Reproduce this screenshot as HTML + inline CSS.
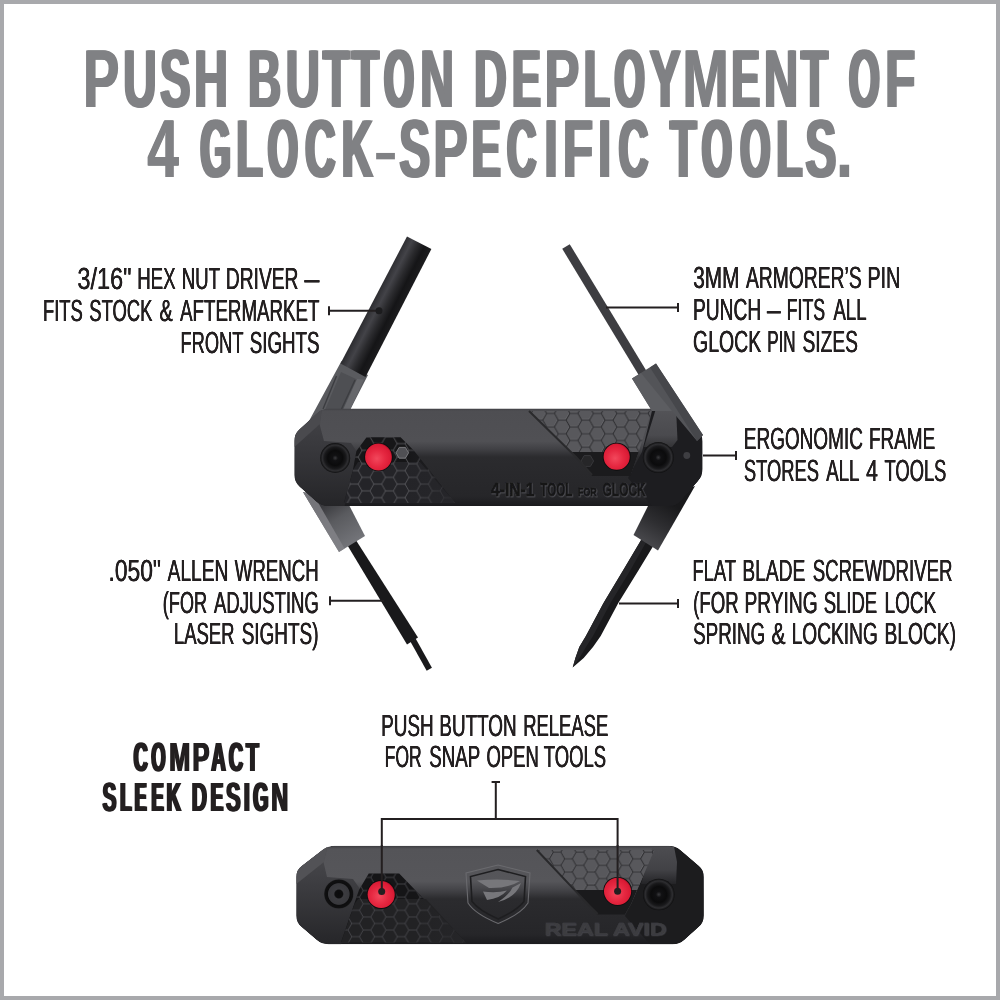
<!DOCTYPE html>
<html lang="en">
<head>
<meta charset="utf-8">
<title>PUSH BUTTON DEPLOYMENT OF 4 GLOCK-SPECIFIC TOOLS.</title>
<style>
html,body{margin:0;padding:0;background:#fff;}
body{width:1000px;height:1000px;overflow:hidden;position:relative;}
svg{position:absolute;left:0;top:0;display:block;}
svg text{font-family:"Liberation Sans",Arial,Helvetica,sans-serif;white-space:pre;}
.t{margin:0;padding:0;will-change:transform;text-rendering:geometricPrecision;position:absolute;left:0;top:0;font-family:"Liberation Sans",Arial,Helvetica,sans-serif;font-weight:normal;font-size:0;line-height:0;white-space:nowrap;color:#231f20;}
.t br{display:none;}
.c{display:inline-block;vertical-align:top;width:0;line-height:1;white-space:pre;transform-origin:0 0;}
.title{font-weight:bold;color:#808184;}
.title .c{font-size:82.3px;}
.lbl .c{font-size:30.5px;}
.sub{font-weight:bold;}
.sub .c{font-size:40.7px;}
</style>
</head>
<body>
<svg width="1000" height="1000" viewBox="0 0 1000 1000">
<defs>
<!-- flat-top hexagon tiling, unit side s=1 scaled via patternTransform -->
<pattern id="hexd" width="3" height="1.732" patternUnits="userSpaceOnUse" patternTransform="translate(346.5,443.6) scale(7.8)">
<path d="M0 .866L.5 0L1.5 0L2 .866L1.5 1.732L.5 1.732ZM2 .866L3 .866" fill="none" stroke="#5a5a5e" stroke-width="0.11"/>
</pattern>
<pattern id="hexl" width="3" height="1.732" patternUnits="userSpaceOnUse" patternTransform="translate(531,406.6) scale(7.8)">
<path d="M0 .866L.5 0L1.5 0L2 .866L1.5 1.732L.5 1.732ZM2 .866L3 .866" fill="none" stroke="#77777b" stroke-width="0.09" transform="translate(-0.05,-0.08)"/>
<path d="M0 .866L.5 0L1.5 0L2 .866L1.5 1.732L.5 1.732ZM2 .866L3 .866" fill="none" stroke="#2a2a2d" stroke-width="0.13"/>
</pattern>
<pattern id="hexd2" width="3" height="1.732" patternUnits="userSpaceOnUse" patternTransform="translate(348,884) scale(7.6)">
<path d="M0 .866L.5 0L1.5 0L2 .866L1.5 1.732L.5 1.732ZM2 .866L3 .866" fill="none" stroke="#48484c" stroke-width="0.11"/>
</pattern>
<pattern id="hexl2" width="3" height="1.732" patternUnits="userSpaceOnUse" patternTransform="translate(538,845.5) scale(7.6)">
<path d="M0 .866L.5 0L1.5 0L2 .866L1.5 1.732L.5 1.732ZM2 .866L3 .866" fill="none" stroke="#75757a" stroke-width="0.09" transform="translate(-0.05,-0.08)"/>
<path d="M0 .866L.5 0L1.5 0L2 .866L1.5 1.732L.5 1.732ZM2 .866L3 .866" fill="none" stroke="#2a2a2d" stroke-width="0.13"/>
</pattern>
<linearGradient id="bodyg" gradientUnits="userSpaceOnUse" x1="0" y1="408" x2="0" y2="506">
<stop offset="0" stop-color="#3c3c40"/>
<stop offset="0.03" stop-color="#4e4e52"/>
<stop offset="0.34" stop-color="#505054"/>
<stop offset="0.42" stop-color="#404044"/>
<stop offset="0.5" stop-color="#2b2b2e"/>
<stop offset="0.9" stop-color="#262629"/>
<stop offset="1" stop-color="#1b1b1e"/>
</linearGradient>
<linearGradient id="bodyg2" gradientUnits="userSpaceOnUse" x1="0" y1="846" x2="0" y2="944">
<stop offset="0" stop-color="#3e3e42"/>
<stop offset="0.03" stop-color="#545458"/>
<stop offset="0.36" stop-color="#56565a"/>
<stop offset="0.45" stop-color="#434347"/>
<stop offset="0.54" stop-color="#2b2b2e"/>
<stop offset="0.9" stop-color="#262629"/>
<stop offset="1" stop-color="#1b1b1e"/>
</linearGradient>
<radialGradient id="redg" cx="0.44" cy="0.56" r="0.62">
<stop offset="0" stop-color="#f2485c"/>
<stop offset="0.5" stop-color="#e62841"/>
<stop offset="0.86" stop-color="#d91a34"/>
<stop offset="1" stop-color="#8a0a1e"/>
</radialGradient>
<radialGradient id="screwg" cx="0.5" cy="0.5" r="0.5">
<stop offset="0" stop-color="#3a3a3d"/>
<stop offset="0.18" stop-color="#111113"/>
<stop offset="0.5" stop-color="#0b0b0c"/>
<stop offset="0.72" stop-color="#19191b"/>
<stop offset="0.86" stop-color="#2e2e31"/>
<stop offset="1" stop-color="#0e0e0f"/>
</radialGradient>
<linearGradient id="cylg" gradientUnits="userSpaceOnUse" x1="374" y1="300" x2="398.5" y2="312.5">
<stop offset="0" stop-color="#2e2e32"/>
<stop offset="0.25" stop-color="#434348"/>
<stop offset="0.5" stop-color="#2a2a2d"/>
<stop offset="0.75" stop-color="#151517"/>
<stop offset="1" stop-color="#1c1c1e"/>
</linearGradient>
<linearGradient id="hold3" gradientUnits="userSpaceOnUse" x1="325" y1="503" x2="352" y2="545">
<stop offset="0" stop-color="#38383c"/>
<stop offset="0.4" stop-color="#5a5b5f"/>
<stop offset="1" stop-color="#74757a"/>
</linearGradient>
<linearGradient id="hold4" gradientUnits="userSpaceOnUse" x1="670" y1="503" x2="645" y2="545">
<stop offset="0" stop-color="#19191b"/>
<stop offset="0.5" stop-color="#2e2e31"/>
<stop offset="1" stop-color="#4a4a4e"/>
</linearGradient>
<linearGradient id="fadeL" gradientUnits="userSpaceOnUse" x1="405" y1="0" x2="455" y2="0">
<stop offset="0" stop-color="#26262a" stop-opacity="0"/>
<stop offset="1" stop-color="#26262a" stop-opacity="0.9"/>
</linearGradient>
<linearGradient id="endR" gradientUnits="userSpaceOnUse" x1="0" y1="408" x2="0" y2="447">
<stop offset="0" stop-color="#545458"/>
<stop offset="0.7" stop-color="#4a4a4e"/>
<stop offset="1" stop-color="#333336"/>
</linearGradient>
<linearGradient id="endR2" gradientUnits="userSpaceOnUse" x1="0" y1="848" x2="0" y2="884">
<stop offset="0" stop-color="#4c4c50"/>
<stop offset="0.6" stop-color="#424246"/>
<stop offset="1" stop-color="#242427"/>
</linearGradient>
<linearGradient id="fadeL2" gradientUnits="userSpaceOnUse" x1="415" y1="0" x2="466" y2="0">
<stop offset="0" stop-color="#262629" stop-opacity="0"/>
<stop offset="1" stop-color="#262629" stop-opacity="0.9"/>
</linearGradient>
<linearGradient id="capL" gradientUnits="userSpaceOnUse" x1="0" y1="410" x2="0" y2="506">
<stop offset="0" stop-color="#444448"/>
<stop offset="0.4" stop-color="#38383c"/>
<stop offset="1" stop-color="#252528"/>
</linearGradient>
<linearGradient id="capL2" gradientUnits="userSpaceOnUse" x1="0" y1="848" x2="0" y2="944">
<stop offset="0" stop-color="#4a4a4e"/>
<stop offset="0.4" stop-color="#3c3c40"/>
<stop offset="1" stop-color="#262629"/>
</linearGradient>
<filter id="emb" x="-5%" y="-20%" width="110%" height="150%"><feDropShadow dx="0.6" dy="0.7" stdDeviation="0.25" flood-color="#5c5c60" flood-opacity="0.9"/></filter>
<filter id="emb2" x="-5%" y="-20%" width="110%" height="150%"><feDropShadow dx="0.5" dy="0.6" stdDeviation="0.25" flood-color="#4e4e52" flood-opacity="0.9"/></filter>
<radialGradient id="screwg2" cx="0.5" cy="0.5" r="0.5">
<stop offset="0" stop-color="#0c0c0d"/>
<stop offset="0.26" stop-color="#0e0e0f"/>
<stop offset="0.34" stop-color="#3c3c40"/>
<stop offset="0.7" stop-color="#38383c"/>
<stop offset="0.76" stop-color="#0d0d0e"/>
<stop offset="0.94" stop-color="#101011"/>
<stop offset="1" stop-color="#2a2a2d"/>
</radialGradient>
<clipPath id="cb1"><path d="M316.9,413.3 Q322,408.5 329.0,408.5 L669.0,408.5 Q676,408.5 681.0,413.4 L697.5,429.6 Q702.5,434.5 702.5,441.5 L702.5,469.0 Q702.5,476 697.9,481.2 L680.6,500.8 Q676,506 669.0,506.0 L328.0,506.0 Q321,506 315.8,501.3 L299.6,486.7 Q294.4,482 294.4,475.0 L294.4,441.0 Q294.4,434 299.5,429.2 Z"/></clipPath>
<clipPath id="cb2"><path d="M322.2,850.1 Q327.8,845.8 334.8,845.8 L668.4,845.8 Q675.4,845.8 680.7,850.3 L698.5,865.5 Q703.8,870 703.8,877.0 L703.8,915.4 Q703.8,922.4 698.6,927.1 L684.8,939.5 Q679.6,944.2 672.6,944.2 L328.5,944.2 Q321.5,944.2 316.2,939.6 L301.6,927.0 Q296.3,922.4 296.3,915.4 L296.3,877.0 Q296.3,870 301.9,865.7 Z"/></clipPath>
</defs>
<rect x="0" y="0" width="1000" height="1000" fill="#ffffff"/>
<rect x="2" y="2" width="996" height="996" fill="none" stroke="#a8a9ac" stroke-width="4"/>
<g id="tool-open">
<!-- hex nut driver holder (grey) -->
<polygon points="341.5,361 368,375 349,412 325,412 309,421" fill="#5a5b5f"/>
<polygon points="341,372 357,379.5 343,410 325,410" fill="#4e4f53"/>
<path d="M336.5,376 L323,409 M355,380 L341.5,409" stroke="#3c3d41" stroke-width="1.4" fill="none"/>
<polygon points="357,379 364,379.5 349,412 343,410" fill="#66676b"/>
<!-- hex nut driver cylinder -->
<polygon points="407,236.5 431.4,249 365.5,377 340.5,363.5" fill="url(#cylg)"/>
<!-- pin punch rod -->
<line x1="566" y1="246.5" x2="643.5" y2="374.5" stroke="#3d3d41" stroke-width="8.8"/>
<!-- allen wrench -->
<polygon points="345.75,542.6 354.25,537.4 418,637.6 407,644.4" fill="#19191b"/>
<line x1="413" y1="640" x2="429.3" y2="669.3" stroke="#19191b" stroke-width="6"/>
<!-- allen wrench holder -->
<polygon points="303,492 339,552 365,536 349,505" fill="url(#hold3)"/>
<polygon points="303,492 339,552 344.5,548.5 312,492" fill="#84858a" opacity="0.8"/>
<!-- screwdriver -->
<polygon points="643.5,536 657.5,539 638.7,570 618.3,603 600.7,636 593,647 583.7,658 572.7,667.4 575.4,658 579.3,647 585.9,636 603.5,603 623.3,570" fill="#19191b"/>
<polygon points="623.3,570 603.5,603 585.9,636 579.3,647 575.4,658 572.7,667.4 579.5,658 586,647 593,636 610.5,603 630.5,570 649,537 643.5,536" fill="#252528"/>
<!-- screwdriver holder -->
<polygon points="652,498 633.5,535 658,550.5 695,486" fill="url(#hold4)"/>
<!-- body -->
<g clip-path="url(#cb1)">
<path d="M316.9,413.3 Q322,408.5 329.0,408.5 L669.0,408.5 Q676,408.5 681.0,413.4 L697.5,429.6 Q702.5,434.5 702.5,441.5 L702.5,469.0 Q702.5,476 697.9,481.2 L680.6,500.8 Q676,506 669.0,506.0 L328.0,506.0 Q321,506 315.8,501.3 L299.6,486.7 Q294.4,482 294.4,475.0 L294.4,441.0 Q294.4,434 299.5,429.2 Z" fill="url(#bodyg)"/>
<!-- left end cap -->
<path d="M322,408.5 L294.4,434 L294.4,482 L321,506 L344.5,506 L353,470 L356.4,451 L351,443 L324,441 L319.5,424 Z" fill="url(#capL)"/>
<path d="M322,408.5 L294.4,434 L294.4,447 L320,424 Z" fill="#4a4a4e"/>
<!-- right end -->
<path d="M652,411 L676,408.5 L702.5,434.5 L702.5,476 L676,506 L652,506 L628,478 L642,452 Z" fill="#1d1d20"/>
<path d="M656,408.5 L676,408.5 L677.5,440 L672,447 L644,447 Z" fill="url(#endR)"/>
</g>
<!-- pin punch holder (in front of body corner) -->
<polygon points="632,378.5 656,363.5 703,435 697,441 672,411 652,411" fill="#535458"/>
<polygon points="632,378.5 641,373 672,411 652,411" fill="#5c5d61"/>
<polygon points="650,367.5 656,363.5 703,435 697,441" fill="#46474b"/>
<!-- left recess + hex panel -->
<polygon points="356.4,451 366.6,437.2 400.6,437.2 414.2,451 455,503 344,503 353,470" fill="#161618"/>
<polygon points="353,470 358,462 420,462 455,503 344,503" fill="#242428"/>
<polygon points="356.4,451 366.6,437.2 400.6,437.2 414.2,451 455,503 344,503 353,470" fill="url(#hexd)"/>
<polygon points="356.4,451 366.6,437.2 400.6,437.2 414.2,451 455,503 344,503 353,470" fill="url(#fadeL)"/>
<polygon points="396,452.8 399.2,447.4 405.4,447.4 408.6,452.8 405.4,458.2 399.2,458.2" fill="#505054" stroke="#8a8a8e" stroke-width="0.8"/>
<!-- right hex panel -->
<polygon points="529,411 651.5,411 639.5,449.5 630.5,475 592,475 577,458" fill="#58585c"/>
<polygon points="529,411 651.5,411 639.5,449.5 630.5,475 592,475 577,458" fill="url(#hexl)"/>
<polygon points="571,452 638.7,452 630.5,476 592,476 577,458.5" fill="#1b1b1d"/>
<polygon points="581,461 584.2,455.6 590.4,455.6 593.6,461 590.4,466.4 584.2,466.4" fill="#262628" stroke="#3c3c40" stroke-width="0.8"/>
<path d="M529,411 L577,458 L592,475" fill="none" stroke="#2a2a2c" stroke-width="2"/>
<!-- screws -->
<circle cx="335.2" cy="458" r="15" fill="url(#screwg)"/>
<circle cx="658.3" cy="457.5" r="15.5" fill="url(#screwg)"/>
<!-- red buttons -->
<circle cx="378.5" cy="457" r="14.3" fill="#0c0c0d"/>
<circle cx="378.5" cy="457" r="13.4" fill="url(#redg)"/>
<circle cx="616.7" cy="456.7" r="14" fill="#0c0c0d"/>
<circle cx="616.7" cy="456.7" r="13.1" fill="url(#redg)"/>
<!-- embossed text -->
<g font-weight="bold" fill="#141416" stroke="#141416" stroke-width="0.85" filter="url(#emb)">
<text x="491" y="495.8" textLength="43.5" lengthAdjust="spacingAndGlyphs" font-size="17.6">4-IN-1</text>
<text x="540.3" y="495.8" textLength="32.2" lengthAdjust="spacingAndGlyphs" font-size="17.6">TOOL</text>
<text x="578" y="495.6" textLength="18.8" lengthAdjust="spacingAndGlyphs" font-size="10.5">FOR</text>
<text x="602.6" y="495.8" textLength="43" lengthAdjust="spacingAndGlyphs" font-size="17.6">GLOCK</text>
</g>
</g>
<g id="leaders" stroke="#231f20" stroke-width="2" fill="none">
<path d="M329,306.2V315.2M329,310.7H379"/>
<path d="M678,303.1V312.1M678,307.6H606"/>
<path d="M736,451.1V460.1M736,455.6H703"/>
<path d="M330,596.3V605.3M330,600.8H384"/>
<path d="M678,599V608M678,603.5H619"/>
<path d="M491.6,782H500M495.8,782V819M381.8,870V819H617.6V870"/>
</g>
<circle cx="379" cy="310.7" r="3.5" fill="#1c1c1e"/>
<circle cx="686.8" cy="455.5" r="3.4" fill="#3e3e42"/>
<g id="tool-closed">
<g clip-path="url(#cb2)">
<path d="M322.2,850.1 Q327.8,845.8 334.8,845.8 L668.4,845.8 Q675.4,845.8 680.7,850.3 L698.5,865.5 Q703.8,870 703.8,877.0 L703.8,915.4 Q703.8,922.4 698.6,927.1 L684.8,939.5 Q679.6,944.2 672.6,944.2 L328.5,944.2 Q321.5,944.2 316.2,939.6 L301.6,927.0 Q296.3,922.4 296.3,915.4 L296.3,877.0 Q296.3,870 301.9,865.7 Z" fill="url(#bodyg2)"/>
<!-- left end cap -->
<path d="M327.8,845.8 L296.3,870 L296.3,922.4 L321.5,944.2 L341,944.2 L360,889 L353,879 L327,877 L323.5,862 Z" fill="url(#capL2)"/>
<path d="M327.8,845.8 L296.3,870 L296.3,884 L324,862 Z" fill="#525256"/>
<!-- right end -->
<path d="M654.4,850 L675.4,845.8 L703.8,870 L703.8,922.4 L679.6,944.2 L650,944.2 L625,916 L631.3,903.5 Z" fill="#1c1c1e"/>
<path d="M652,848 L674,846.5 L677,862 L676,884 L641,884 Z" fill="url(#endR2)"/>
</g>
<!-- left hex panel -->
<polygon points="359,890 368.75,873.5 399.2,873.5 466,942.5 341,942.5" fill="#151517"/>
<polygon points="354.5,904 358,899 426,899 466,942.5 341,942.5" fill="#222224"/>
<polygon points="359,890 368.75,873.5 399.2,873.5 466,942.5 341,942.5" fill="url(#hexd2)"/>
<polygon points="359,890 368.75,873.5 399.2,873.5 466,942.5 341,942.5" fill="url(#fadeL2)"/>
<!-- right hex panel -->
<polygon points="536.8,850 654.4,850 631.3,903.5 625,914 597.7,914 589.3,905.6" fill="#58585c"/>
<polygon points="536.8,850 654.4,850 631.3,903.5 625,914 597.7,914 589.3,905.6" fill="url(#hexl2)"/>
<polygon points="574,890 637,890 631.3,903.5 625,914.5 597.7,914.5 589.3,905.6" fill="#1a1a1c"/>
<path d="M536.8,850 L589.3,905.6 L597.7,914" fill="none" stroke="#29292b" stroke-width="2"/>
<!-- screws -->
<circle cx="338.8" cy="894" r="14.8" fill="url(#screwg2)"/>
<circle cx="658.8" cy="894.5" r="15.8" fill="url(#screwg)"/>
<!-- buttons -->
<circle cx="381.2" cy="894.5" r="14.4" fill="#0c0c0d"/>
<circle cx="381.2" cy="894.5" r="13.6" fill="url(#redg)"/>
<circle cx="617.6" cy="891.3" r="14.4" fill="#0c0c0d"/>
<circle cx="617.6" cy="891.3" r="13.6" fill="url(#redg)"/>
<!-- shield -->
<path d="M498,865 L530,873 L528,903 Q521,914 498.2,923.5 Q475,914 468,903 L466,873 Z" fill="none" stroke="#6a6a6e" stroke-width="1.1"/>
<path d="M498,869.5 L525.5,876.5 L524,901.5 Q517,910.5 498.2,919 Q479,910.5 472,901.5 L470.5,876.5 Z" fill="none" stroke="#1e1e20" stroke-width="1.6"/>
<path d="M477,880.5 Q500,878.5 520,881 Q508,888.5 489,888 Z M521,883 Q516,897.5 498,902 Q509,895 512.5,887.5 Z M483,891.5 Q496,893.5 507,890.5 Q500,898.5 487,900 Z" fill="#77777b"/>
<text x="544.5" y="935" textLength="122" lengthAdjust="spacingAndGlyphs" font-size="16.8" font-weight="bold" fill="#3c3c40" stroke="#3c3c40" stroke-width="0.4" filter="url(#emb2)">REAL AVID</text>
</g>
<g stroke="#231f20" stroke-width="2" fill="none"><path d="M381.8,891V845M617.6,891V845"/></g>
<circle cx="381.7" cy="891.5" r="3.5" fill="#231f20"/>
<circle cx="617.6" cy="891.3" r="3.5" fill="#231f20"/>
</svg>
<h1 class="t title" aria-label="PUSH BUTTON DEPLOYMENT OF 4 GLOCK-SPECIFIC TOOLS."><span><span class="c" style="transform:translate(83.40px,37.70px) scaleX(0.6500);text-shadow:1.231px 0 0 #808184,-1.231px 0 0 #808184">P</span><span class="c" style="transform:translate(123.21px,37.70px) scaleX(0.5603);text-shadow:2.338px 0 0 #808184,-2.338px 0 0 #808184">U</span><span class="c" style="transform:translate(160.19px,37.70px) scaleX(0.5519);text-shadow:2.464px 0 0 #808184,-2.464px 0 0 #808184">S</span><span class="c" style="transform:translate(194.30px,37.70px) scaleX(0.5641);text-shadow:2.287px 0 0 #808184,-2.287px 0 0 #808184">H</span></span> <span><span class="c" style="transform:translate(248.01px,37.70px) scaleX(0.5549);text-shadow:2.469px 0 0 #808184,-2.469px 0 0 #808184">B</span><span class="c" style="transform:translate(285.80px,37.70px) scaleX(0.5729);text-shadow:2.147px 0 0 #808184,-2.147px 0 0 #808184">U</span><span class="c" style="transform:translate(322.86px,37.70px) scaleX(0.5344);text-shadow:2.751px 0 0 #808184,-2.751px 0 0 #808184">T</span><span class="c" style="transform:translate(351.71px,37.70px) scaleX(0.5412);text-shadow:2.679px 0 0 #808184,-2.679px 0 0 #808184">T</span><span class="c" style="transform:translate(384.31px,37.70px) scaleX(0.4603);text-shadow:4.215px 0 0 #808184,-4.215px 0 0 #808184">O</span><span class="c" style="transform:translate(420.30px,37.70px) scaleX(0.5641);text-shadow:2.287px 0 0 #808184,-2.287px 0 0 #808184">N</span></span> <span><span class="c" style="transform:translate(474.19px,37.70px) scaleX(0.5486);text-shadow:2.57px 0 0 #808184,-2.57px 0 0 #808184">D</span><span class="c" style="transform:translate(511.94px,37.70px) scaleX(0.5262);text-shadow:2.927px 0 0 #808184,-2.927px 0 0 #808184">E</span><span class="c" style="transform:translate(544.29px,37.70px) scaleX(0.6409);text-shadow:1.373px 0 0 #808184,-1.373px 0 0 #808184">P</span><span class="c" style="transform:translate(584.28px,37.70px) scaleX(0.5025);text-shadow:3.363px 0 0 #808184,-3.363px 0 0 #808184">L</span><span class="c" style="transform:translate(614.63px,37.70px) scaleX(0.4673);text-shadow:4.066px 0 0 #808184,-4.066px 0 0 #808184">O</span><span class="c" style="transform:translate(649.62px,37.70px) scaleX(0.5649);text-shadow:2.319px 0 0 #808184,-2.319px 0 0 #808184">Y</span><span class="c" style="transform:translate(682.43px,37.70px) scaleX(0.6769);text-shadow:0.945px 0 0 #808184,-0.945px 0 0 #808184">M</span><span class="c" style="transform:translate(731.49px,37.70px) scaleX(0.5182);text-shadow:3.03px 0 0 #808184,-3.03px 0 0 #808184">E</span><span class="c" style="transform:translate(763.87px,37.70px) scaleX(0.5769);text-shadow:2.149px 0 0 #808184,-2.149px 0 0 #808184">N</span><span class="c" style="transform:translate(801.05px,37.70px) scaleX(0.5361);text-shadow:2.723px 0 0 #808184,-2.723px 0 0 #808184">T</span></span> <span><span class="c" style="transform:translate(848.95px,37.70px) scaleX(0.4783);text-shadow:3.784px 0 0 #808184,-3.784px 0 0 #808184">O</span><span class="c" style="transform:translate(885.08px,37.70px) scaleX(0.6034);text-shadow:1.79px 0 0 #808184,-1.79px 0 0 #808184">F</span></span> <br> <span><span class="c" style="transform:translate(147.24px,108.20px) scaleX(0.6882);text-shadow:0.828px 0 0 #808184,-0.828px 0 0 #808184">4</span></span> <span><span class="c" style="transform:translate(200.31px,108.20px) scaleX(0.4746);text-shadow:3.856px 0 0 #808184,-3.856px 0 0 #808184">G</span><span class="c" style="transform:translate(236.11px,108.20px) scaleX(0.5320);text-shadow:2.782px 0 0 #808184,-2.782px 0 0 #808184">L</span><span class="c" style="transform:translate(267.80px,108.20px) scaleX(0.4682);text-shadow:4.037px 0 0 #808184,-4.037px 0 0 #808184">O</span><span class="c" style="transform:translate(305.26px,108.20px) scaleX(0.5059);text-shadow:3.262px 0 0 #808184,-3.262px 0 0 #808184">C</span><span class="c" style="transform:translate(341.79px,108.20px) scaleX(0.5229);text-shadow:2.983px 0 0 #808184,-2.983px 0 0 #808184">K</span><span class="c" style="transform:translate(373.37px,124.93px) scale(0.8980,0.65)">-</span><span class="c" style="transform:translate(399.38px,108.20px) scaleX(0.5584);text-shadow:2.364px 0 0 #808184,-2.364px 0 0 #808184">S</span><span class="c" style="transform:translate(433.24px,108.20px) scaleX(0.6269);text-shadow:1.499px 0 0 #808184,-1.499px 0 0 #808184">P</span><span class="c" style="transform:translate(471.85px,108.20px) scaleX(0.5252);text-shadow:2.951px 0 0 #808184,-2.951px 0 0 #808184">E</span><span class="c" style="transform:translate(506.88px,108.20px) scaleX(0.4932);text-shadow:3.548px 0 0 #808184,-3.548px 0 0 #808184">C</span><span class="c" style="transform:translate(543.61px,108.20px) scaleX(0.6467);text-shadow:1.268px 0 0 #808184,-1.268px 0 0 #808184">I</span><span class="c" style="transform:translate(562.87px,108.20px) scaleX(0.6027);text-shadow:1.809px 0 0 #808184,-1.809px 0 0 #808184">F</span><span class="c" style="transform:translate(597.26px,108.20px) scaleX(0.6467);text-shadow:1.268px 0 0 #808184,-1.268px 0 0 #808184">I</span><span class="c" style="transform:translate(618.61px,108.20px) scaleX(0.4991);text-shadow:3.386px 0 0 #808184,-3.386px 0 0 #808184">C</span></span> <span><span class="c" style="transform:translate(669.88px,108.20px) scaleX(0.5287);text-shadow:2.837px 0 0 #808184,-2.837px 0 0 #808184">T</span><span class="c" style="transform:translate(701.97px,108.20px) scaleX(0.4673);text-shadow:4.066px 0 0 #808184,-4.066px 0 0 #808184">O</span><span class="c" style="transform:translate(740.48px,108.20px) scaleX(0.4621);text-shadow:4.198px 0 0 #808184,-4.198px 0 0 #808184">O</span><span class="c" style="transform:translate(776.20px,108.20px) scaleX(0.5235);text-shadow:2.98px 0 0 #808184,-2.98px 0 0 #808184">L</span><span class="c" style="transform:translate(805.34px,108.20px) scaleX(0.5645);text-shadow:2.285px 0 0 #808184,-2.285px 0 0 #808184">S</span><span class="c" style="transform:translate(835.20px,108.20px) scaleX(0.8066);text-shadow:none">.</span></span></h1>
<p class="t lbl" id="hex"><span class="c" style="transform:translate(77.41px,264.30px) scaleX(0.7705);text-shadow:0.26px 0 0 #231f20,-0.26px 0 0 #231f20">3/16"</span> <span class="c" style="transform:translate(137.18px,264.30px) scaleX(0.6125);text-shadow:0.327px 0 0 #231f20,-0.327px 0 0 #231f20">HEX</span> <span class="c" style="transform:translate(181.68px,264.30px) scaleX(0.6125);text-shadow:0.327px 0 0 #231f20,-0.327px 0 0 #231f20">NUT</span> <span class="c" style="transform:translate(225.84px,264.30px) scaleX(0.6299);text-shadow:0.318px 0 0 #231f20,-0.318px 0 0 #231f20">DRIVER</span> <span class="c" style="transform:translate(304.38px,264.30px) scaleX(0.8812);text-shadow:0.227px 0 0 #231f20,-0.227px 0 0 #231f20">–</span> <br> <span class="c" style="transform:translate(43.00px,296.40px) scaleX(0.6022);text-shadow:0.332px 0 0 #231f20,-0.332px 0 0 #231f20">FITS</span> <span class="c" style="transform:translate(89.30px,296.40px) scaleX(0.6039);text-shadow:0.331px 0 0 #231f20,-0.331px 0 0 #231f20">STOCK</span> <span class="c" style="transform:translate(159.50px,296.40px) scaleX(0.6501);text-shadow:0.308px 0 0 #231f20,-0.308px 0 0 #231f20">&amp;</span> <span class="c" style="transform:translate(180.09px,296.40px) scaleX(0.6136);text-shadow:0.326px 0 0 #231f20,-0.326px 0 0 #231f20">AFTERMARKET</span> <br> <span class="c" style="transform:translate(180.41px,328.20px) scaleX(0.6011);text-shadow:0.333px 0 0 #231f20,-0.333px 0 0 #231f20">FRONT</span> <span class="c" style="transform:translate(249.79px,328.20px) scaleX(0.6140);text-shadow:0.326px 0 0 #231f20,-0.326px 0 0 #231f20">SIGHTS</span></p>
<p class="t lbl" id="pin"><span class="c" style="transform:translate(693.27px,262.70px) scaleX(0.6810);text-shadow:0.294px 0 0 #231f20,-0.294px 0 0 #231f20">3MM</span> <span class="c" style="transform:translate(746.00px,262.70px) scaleX(0.6321);text-shadow:0.316px 0 0 #231f20,-0.316px 0 0 #231f20">ARMORER’S</span> <span class="c" style="transform:translate(867.51px,262.70px) scaleX(0.6446);text-shadow:0.31px 0 0 #231f20,-0.31px 0 0 #231f20">PIN</span> <br> <span class="c" style="transform:translate(693.05px,294.70px) scaleX(0.6283);text-shadow:0.318px 0 0 #231f20,-0.318px 0 0 #231f20">PUNCH</span> <span class="c" style="transform:translate(767.05px,294.70px) scaleX(0.8061);text-shadow:0.248px 0 0 #231f20,-0.248px 0 0 #231f20">–</span> <span class="c" style="transform:translate(786.66px,294.70px) scaleX(0.5822);text-shadow:0.344px 0 0 #231f20,-0.344px 0 0 #231f20">FITS</span> <span class="c" style="transform:translate(833.50px,294.70px) scaleX(0.6079);text-shadow:0.329px 0 0 #231f20,-0.329px 0 0 #231f20">ALL</span> <br> <span class="c" style="transform:translate(693.07px,326.70px) scaleX(0.6381);text-shadow:0.313px 0 0 #231f20,-0.313px 0 0 #231f20">GLOCK</span> <span class="c" style="transform:translate(767.21px,326.70px) scaleX(0.5587);text-shadow:0.358px 0 0 #231f20,-0.358px 0 0 #231f20">PIN</span> <span class="c" style="transform:translate(802.47px,326.70px) scaleX(0.6296);text-shadow:0.318px 0 0 #231f20,-0.318px 0 0 #231f20">SIZES</span></p>
<p class="t lbl" id="frame"><span class="c" style="transform:translate(743.77px,424.40px) scaleX(0.6221);text-shadow:0.321px 0 0 #231f20,-0.321px 0 0 #231f20">ERGONOMIC</span> <span class="c" style="transform:translate(868.96px,424.40px) scaleX(0.6210);text-shadow:0.322px 0 0 #231f20,-0.322px 0 0 #231f20">FRAME</span> <br> <span class="c" style="transform:translate(743.90px,456.40px) scaleX(0.6011);text-shadow:0.333px 0 0 #231f20,-0.333px 0 0 #231f20">STORES</span> <span class="c" style="transform:translate(826.19px,456.40px) scaleX(0.6129);text-shadow:0.326px 0 0 #231f20,-0.326px 0 0 #231f20">ALL</span> <span class="c" style="transform:translate(866.12px,456.40px) scaleX(0.6977);text-shadow:0.287px 0 0 #231f20,-0.287px 0 0 #231f20">4</span> <span class="c" style="transform:translate(884.56px,456.40px) scaleX(0.6008);text-shadow:0.333px 0 0 #231f20,-0.333px 0 0 #231f20">TOOLS</span></p>
<p class="t lbl" id="blade"><span class="c" style="transform:translate(692.40px,556.00px) scaleX(0.6034);text-shadow:0.331px 0 0 #231f20,-0.331px 0 0 #231f20">FLAT</span> <span class="c" style="transform:translate(742.35px,556.00px) scaleX(0.6294);text-shadow:0.318px 0 0 #231f20,-0.318px 0 0 #231f20">BLADE</span> <span class="c" style="transform:translate(812.70px,556.00px) scaleX(0.6113);text-shadow:0.327px 0 0 #231f20,-0.327px 0 0 #231f20">SCREWDRIVER</span> <br> <span class="c" style="transform:translate(693.15px,587.50px) scaleX(0.6118);text-shadow:0.327px 0 0 #231f20,-0.327px 0 0 #231f20">(FOR</span> <span class="c" style="transform:translate(744.55px,587.50px) scaleX(0.6277);text-shadow:0.319px 0 0 #231f20,-0.319px 0 0 #231f20">PRYING</span> <span class="c" style="transform:translate(823.71px,587.50px) scaleX(0.6063);text-shadow:0.33px 0 0 #231f20,-0.33px 0 0 #231f20">SLIDE</span> <span class="c" style="transform:translate(884.56px,587.50px) scaleX(0.6220);text-shadow:0.322px 0 0 #231f20,-0.322px 0 0 #231f20">LOCK</span> <br> <span class="c" style="transform:translate(693.09px,619.40px) scaleX(0.6171);text-shadow:0.324px 0 0 #231f20,-0.324px 0 0 #231f20">SPRING</span> <span class="c" style="transform:translate(771.57px,619.40px) scaleX(0.6883);text-shadow:0.291px 0 0 #231f20,-0.291px 0 0 #231f20">&amp;</span> <span class="c" style="transform:translate(791.65px,619.40px) scaleX(0.6275);text-shadow:0.319px 0 0 #231f20,-0.319px 0 0 #231f20">LOCKING</span> <span class="c" style="transform:translate(884.55px,619.40px) scaleX(0.6295);text-shadow:0.318px 0 0 #231f20,-0.318px 0 0 #231f20">BLOCK)</span></p>
<p class="t lbl" id="allen"><span class="c" style="transform:translate(108.49px,556.00px) scaleX(0.7477);text-shadow:0.267px 0 0 #231f20,-0.267px 0 0 #231f20">.050"</span> <span class="c" style="transform:translate(167.60px,556.00px) scaleX(0.6289);text-shadow:0.318px 0 0 #231f20,-0.318px 0 0 #231f20">ALLEN</span> <span class="c" style="transform:translate(234.80px,556.00px) scaleX(0.6111);text-shadow:0.327px 0 0 #231f20,-0.327px 0 0 #231f20">WRENCH</span> <br> <span class="c" style="transform:translate(162.79px,587.50px) scaleX(0.5944);text-shadow:0.336px 0 0 #231f20,-0.336px 0 0 #231f20">(FOR</span> <span class="c" style="transform:translate(214.00px,587.50px) scaleX(0.6061);text-shadow:0.33px 0 0 #231f20,-0.33px 0 0 #231f20">ADJUSTING</span> <br> <span class="c" style="transform:translate(173.90px,619.40px) scaleX(0.6060);text-shadow:0.33px 0 0 #231f20,-0.33px 0 0 #231f20">LASER</span> <span class="c" style="transform:translate(241.69px,619.40px) scaleX(0.6210);text-shadow:0.322px 0 0 #231f20,-0.322px 0 0 #231f20">SIGHTS)</span></p>
<p class="t lbl" id="push"><span class="c" style="transform:translate(381.17px,710.70px) scaleX(0.6189);text-shadow:0.323px 0 0 #231f20,-0.323px 0 0 #231f20">PUSH</span> <span class="c" style="transform:translate(439.37px,710.70px) scaleX(0.6189);text-shadow:0.323px 0 0 #231f20,-0.323px 0 0 #231f20">BUTTON</span> <span class="c" style="transform:translate(523.20px,710.70px) scaleX(0.6046);text-shadow:0.331px 0 0 #231f20,-0.331px 0 0 #231f20">RELEASE</span> <br> <span class="c" style="transform:translate(384.67px,742.40px) scaleX(0.5760);text-shadow:0.347px 0 0 #231f20,-0.347px 0 0 #231f20">FOR</span> <span class="c" style="transform:translate(429.29px,742.40px) scaleX(0.6127);text-shadow:0.326px 0 0 #231f20,-0.326px 0 0 #231f20">SNAP</span> <span class="c" style="transform:translate(486.50px,742.40px) scaleX(0.6049);text-shadow:0.331px 0 0 #231f20,-0.331px 0 0 #231f20">OPEN</span> <span class="c" style="transform:translate(543.77px,742.40px) scaleX(0.6055);text-shadow:0.33px 0 0 #231f20,-0.33px 0 0 #231f20">TOOLS</span></p>
<h2 class="t sub" aria-label="COMPACT SLEEK DESIGN"><span><span class="c" style="transform:translate(133.75px,736.50px) scaleX(0.4707);text-shadow:2.422px 0 0 #231f20,-2.422px 0 0 #231f20">C</span><span class="c" style="transform:translate(151.40px,736.50px) scaleX(0.4475);text-shadow:2.682px 0 0 #231f20,-2.682px 0 0 #231f20">O</span><span class="c" style="transform:translate(169.20px,736.50px) scaleX(0.6175);text-shadow:1.15px 0 0 #231f20,-1.15px 0 0 #231f20">M</span><span class="c" style="transform:translate(192.49px,736.50px) scaleX(0.6242);text-shadow:1.137px 0 0 #231f20,-1.137px 0 0 #231f20">P</span><span class="c" style="transform:translate(211.28px,736.50px) scaleX(0.4879);text-shadow:2.275px 0 0 #231f20,-2.275px 0 0 #231f20">A</span><span class="c" style="transform:translate(228.76px,736.50px) scaleX(0.4820);text-shadow:2.324px 0 0 #231f20,-2.324px 0 0 #231f20">C</span><span class="c" style="transform:translate(246.00px,736.50px) scaleX(0.5186);text-shadow:1.89px 0 0 #231f20,-1.89px 0 0 #231f20">T</span></span> <br> <span><span class="c" style="transform:translate(102.60px,776.50px) scaleX(0.5151);text-shadow:1.941px 0 0 #231f20,-1.941px 0 0 #231f20">S</span><span class="c" style="transform:translate(120.29px,776.50px) scaleX(0.4545);text-shadow:2.64px 0 0 #231f20,-2.64px 0 0 #231f20">L</span><span class="c" style="transform:translate(134.73px,776.50px) scaleX(0.4358);text-shadow:2.891px 0 0 #231f20,-2.891px 0 0 #231f20">E</span><span class="c" style="transform:translate(151.39px,776.50px) scaleX(0.4569);text-shadow:2.561px 0 0 #231f20,-2.561px 0 0 #231f20">E</span><span class="c" style="transform:translate(166.68px,776.50px) scaleX(0.4866);text-shadow:2.281px 0 0 #231f20,-2.281px 0 0 #231f20">K</span></span> <span><span class="c" style="transform:translate(191.81px,776.50px) scaleX(0.5169);text-shadow:1.973px 0 0 #231f20,-1.973px 0 0 #231f20">D</span><span class="c" style="transform:translate(210.79px,776.50px) scaleX(0.4574);text-shadow:2.602px 0 0 #231f20,-2.602px 0 0 #231f20">E</span><span class="c" style="transform:translate(225.93px,776.50px) scaleX(0.5385);text-shadow:1.783px 0 0 #231f20,-1.783px 0 0 #231f20">S</span><span class="c" style="transform:translate(241.70px,776.50px) scaleX(0.9023);text-shadow:none">I</span><span class="c" style="transform:translate(253.24px,776.50px) scaleX(0.4768);text-shadow:2.391px 0 0 #231f20,-2.391px 0 0 #231f20">G</span><span class="c" style="transform:translate(271.37px,776.50px) scaleX(0.5709);text-shadow:1.454px 0 0 #231f20,-1.454px 0 0 #231f20">N</span></span></h2>
</body>
</html>
